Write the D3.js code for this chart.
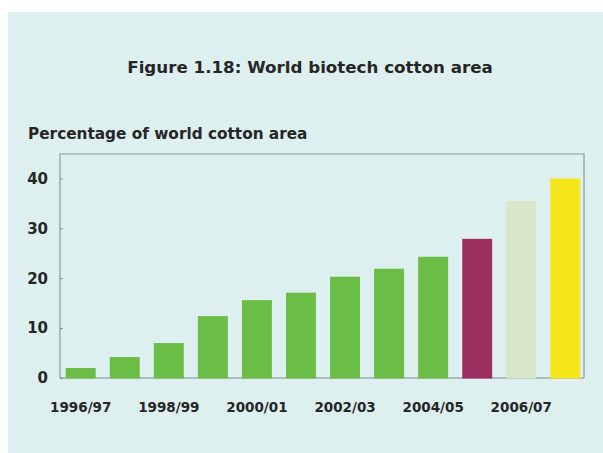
<!DOCTYPE html>
<html><head><meta charset="utf-8">
<script src="https://cdn.jsdelivr.net/npm/d3@7"></script>
<style>
html,body{margin:0;padding:0;background:#fff;}
svg{display:block;}
text{font-family:"DejaVu Sans",Arial,sans-serif;font-weight:bold;fill:#262626;}
</style></head>
<body>
<svg id="chart" width="603" height="453"></svg>
<script>
const seasons = ["1996/97","1997/98","1998/99","1999/00","2000/01","2001/02","2002/03","2003/04","2004/05","2005/06","2006/07","2007/08"];
const values = [2.0, 4.2, 7.0, 12.4, 15.6, 17.1, 20.3, 21.9, 24.3, 27.9, 35.5, 40.0];
const barColors = ["#6abd45","#6abd45","#6abd45","#6abd45","#6abd45","#6abd45","#6abd45","#6abd45","#6abd45","#9c2f60","#d6e8c9","#f6e51b"];
const xTickLabels = ["1996/97","1998/99","2000/01","2002/03","2004/05","2006/07"];
const yTicks = [0,10,20,30,40];
const title = "Figure 1.18: World biotech cotton area";
const yTitle = "Percentage of world cotton area";

(function(){
const svg = d3.select("#chart");
const FONT = "DejaVu Sans, Arial, sans-serif";
svg.append("rect").attr("x",8).attr("y",12).attr("width",595).attr("height",441).attr("fill","#ddf0ef");

const pL=60, pR=584, pT=154, pB=378;
const x = d3.scaleBand().domain(seasons).range([pL, pR+2]).paddingInner(0.32).paddingOuter(0.13);
const y = d3.scaleLinear().domain([0, 44.9]).range([pB, pT]);

svg.append("text").attr("x",310).attr("y",73).attr("text-anchor","middle").attr("font-size","16.7px").text(title);
svg.append("text").attr("x",28).attr("y",139).attr("font-size","15.3px").text(yTitle);

const frame = svg.append("g").attr("stroke","#8c9a9a").attr("stroke-width",1.2).attr("fill","none");
frame.append("path").attr("d",`M${pL},${pB}V${pT}H${pR}V${pB}`);

svg.append("line").attr("x1",pL).attr("x2",pR).attr("y1",pB).attr("y2",pB).attr("stroke","#7d8a8a").attr("stroke-width",1.2);

const yAxis = d3.axisRight(y).tickValues(yTicks).tickSize(3).tickFormat(d3.format("d"));
const gy = svg.append("g").attr("transform",`translate(${pL},0)`).call(yAxis);
gy.select(".domain").remove();
gy.selectAll(".tick line").attr("stroke","#7d8a8a");
gy.selectAll(".tick text").attr("x",-12).attr("text-anchor","end").attr("font-size","15px").attr("fill","#262626").attr("font-family",FONT).attr("font-weight","bold");

svg.append("g").selectAll("rect").data(values).join("rect")
  .attr("x",(d,i)=>x(seasons[i]))
  .attr("width",x.bandwidth())
  .attr("y",d=>y(d))
  .attr("height",d=>y(0)-y(d)+0.5)
  .attr("fill",(d,i)=>barColors[i]);

const xAxis = d3.axisBottom(x).tickValues(xTickLabels).tickSize(0);
const gx = svg.append("g").attr("transform",`translate(0,${pB})`).call(xAxis);
gx.select(".domain").remove();
gx.selectAll(".tick text").attr("font-size","13.5px").attr("fill","#262626").attr("font-family",FONT).attr("font-weight","bold").attr("dy","0.35em").attr("y",29);
})();
</script>
</body></html>
